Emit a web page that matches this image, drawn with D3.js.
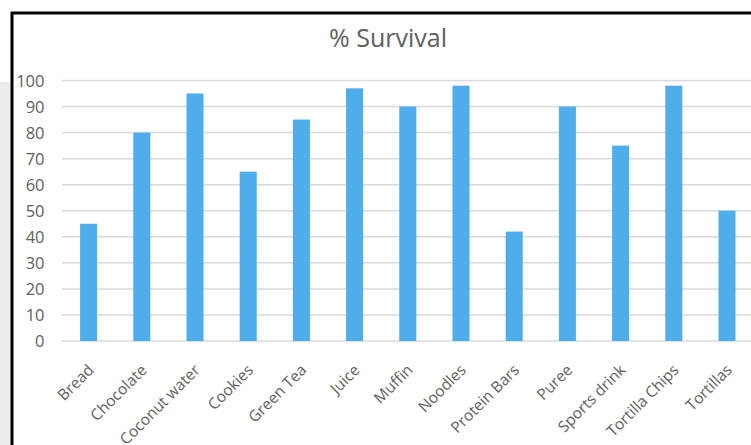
<!DOCTYPE html>
<html>
<head>
<meta charset="utf-8">
<script src="https://cdn.jsdelivr.net/npm/d3@7"></script>
<style>
  html, body { margin: 0; padding: 0; background: #fff; }
  svg { display: block; }
</style>
</head>
<body>
<svg id="chart" width="751" height="445"></svg>
<script>
// Survival percentage per food item
const categories = ["Bread", "Chocolate", "Coconut water", "Cookies", "Green Tea", "Juice",
  "Muffin", "Noodles", "Protein Bars", "Puree", "Sports drink", "Tortilla Chips", "Tortillas"];
const survival = [45, 80, 95, 65, 85, 97, 90, 98, 42, 90, 75, 98, 50];
const yTicks = [0, 10, 20, 30, 40, 50, 60, 70, 80, 90, 100];
const titleText = "% Survival";

const W = 751, H = 445;
const svg = d3.select("#chart");
const font = "'Open Sans', 'Liberation Sans', sans-serif";
const textColor = "#606060";

// page strip on the left, outside the chart frame
svg.append("rect").attr("x", 0).attr("y", 82).attr("width", 12).attr("height", H - 82)
  .attr("fill", "#ececec");

// chart frame
svg.append("line").attr("x1", 11).attr("x2", W).attr("y1", 13).attr("y2", 13)
  .attr("stroke", "#000").attr("stroke-width", 3);
svg.append("line").attr("x1", 12).attr("x2", 12).attr("y1", 12).attr("y2", H)
  .attr("stroke", "#000").attr("stroke-width", 3);

const plot = { left: 62, right: 753.6, top: 80.5, bottom: 341 };

const x = d3.scaleBand().domain(categories).range([plot.left, plot.right])
  .paddingInner(0.68).paddingOuter(0.34);
const y = d3.scaleLinear().domain([0, 100]).range([plot.bottom, plot.top]);

// horizontal gridlines
svg.append("g").selectAll("line").data(yTicks).join("line")
  .attr("x1", plot.left).attr("x2", W)
  .attr("y1", d => y(d)).attr("y2", d => y(d))
  .attr("stroke", "#d9d9d9").attr("stroke-width", 1.5);

// y axis labels
const yAxis = d3.axisLeft(y).tickValues(yTicks).tickSize(0).tickPadding(0);
const gy = svg.append("g").attr("transform", `translate(${plot.left - 17.5},0)`).call(yAxis);
gy.select(".domain").remove();
gy.selectAll("text").attr("fill", textColor).style("font-family", font).style("font-size", "16.5px")
  .attr("dy", "0.36em");

// bars
svg.append("g").selectAll("rect").data(categories).join("rect")
  .attr("x", d => x(d))
  .attr("width", x.bandwidth())
  .attr("y", (d, i) => y(survival[i]))
  .attr("height", (d, i) => y(0) - y(survival[i]))
  .attr("fill", "#4eadea");

// x axis labels, rotated; long ones run past the bottom edge of the chart
const xAxis = d3.axisBottom(x).tickSize(0).tickPadding(0);
const gx = svg.append("g").attr("transform", `translate(0,${plot.bottom})`).call(xAxis);
gx.select(".domain").remove();
gx.selectAll("text")
  .attr("fill", textColor).style("font-family", font).style("font-size", "15.5px")
  .attr("text-anchor", "end")
  .attr("dy", null).attr("y", 0)
  .attr("transform", "translate(6,30) rotate(-45)");

// title
svg.append("text").attr("x", 388).attr("y", 47).attr("text-anchor", "middle")
  .attr("fill", textColor).style("font-family", font).style("font-size", "25px")
  .text(titleText);
</script>
</body>
</html>
